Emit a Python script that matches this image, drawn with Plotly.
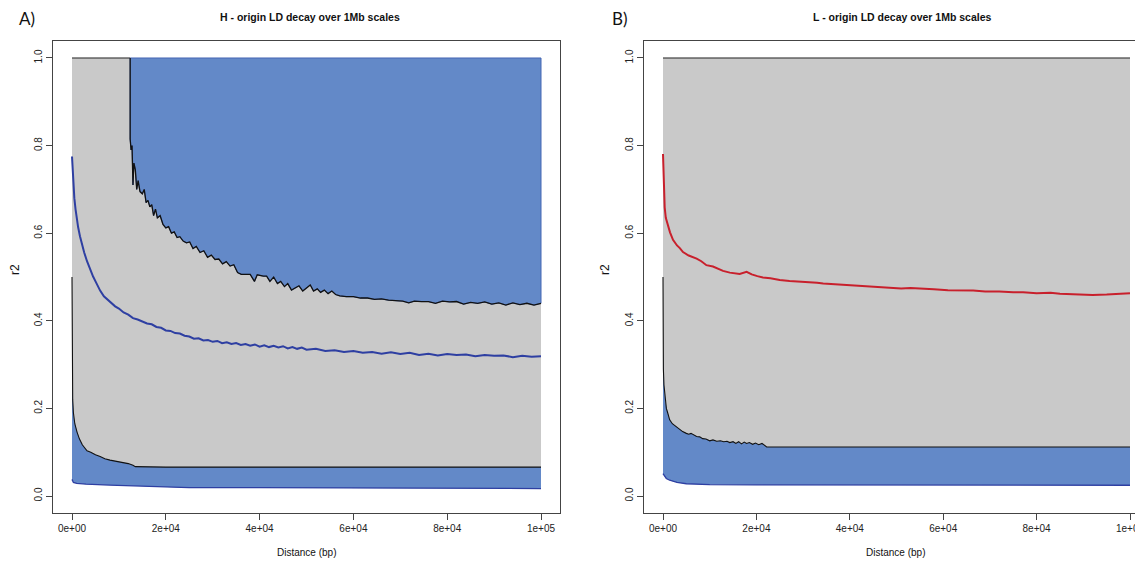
import plotly.graph_objects as go

# page is drawn with an 8px body margin, so the figure is 8px smaller each way
OFF = 8
W, H = 1143 - OFF, 564 - OFF

# ---------------- Panel A (H-origin) ----------------
H_up_x = [12400, 12400, 12600, 12800, 13000, 13200, 13500, 13800, 14100, 14500, 15000, 15400, 15800, 16200,
          16600, 17000, 17400, 17800, 18200, 18800, 19400, 20000, 20600, 21200, 21800, 22400, 23000, 23700,
          24400, 25100, 25800, 26500, 27300, 28100, 28900, 29700, 30500, 31300, 32100, 32900, 33700, 34500,
          35300, 36100, 37000, 38000, 38900, 39500, 40800, 41500, 42200, 43000, 43800, 44500, 45300, 46000,
          46800, 47600, 48400, 49200, 50000, 50800, 51500, 52300, 53000, 53800, 54600, 55400, 56200, 57100,
          58500, 60000, 61500, 63000, 64500, 66000, 67500, 69200, 70500, 71800, 73000, 74500, 76000, 77500,
          79000, 80500, 82000, 83500, 85000, 86500, 88000, 89500, 91000, 92500, 94000, 95500, 97000, 98500, 100000]
H_up_y = [1.0, 0.815, 0.79, 0.80, 0.71, 0.76, 0.745, 0.70, 0.72, 0.695, 0.69, 0.70, 0.67, 0.675,
          0.66, 0.665, 0.64, 0.655, 0.635, 0.64, 0.62, 0.612, 0.615, 0.60, 0.603, 0.59, 0.592, 0.582,
          0.578, 0.58, 0.565, 0.57, 0.556, 0.56, 0.545, 0.55, 0.54, 0.541, 0.53, 0.535, 0.525, 0.528,
          0.51, 0.506, 0.506, 0.506, 0.49, 0.505, 0.502, 0.502, 0.49, 0.50, 0.485, 0.49, 0.478, 0.485,
          0.47, 0.475, 0.48, 0.468, 0.475, 0.482, 0.468, 0.473, 0.465, 0.47, 0.462, 0.468, 0.46, 0.457,
          0.455, 0.455, 0.452, 0.452, 0.449, 0.45, 0.447, 0.445, 0.445, 0.441, 0.445, 0.444, 0.444, 0.44,
          0.445, 0.443, 0.444, 0.438, 0.442, 0.44, 0.443, 0.438, 0.441, 0.436, 0.441, 0.437, 0.44, 0.436, 0.44]

H_mean_x = [0, 150, 300, 500, 750, 1000, 1300, 1700, 2100, 2600, 3200, 3800, 4500, 5200, 6000, 6800, 7600,
            8400, 9200, 10000, 11000, 12000, 13000, 14000, 15000, 16000, 17000, 18000, 19000, 20000, 21000,
            22000, 23000, 24000, 25000, 26000, 27000, 28000, 29000, 30000, 31000, 32000, 33000, 34000, 35000,
            36000, 37000, 38000, 39000, 40000, 41000, 42000, 43000, 44000, 45000, 46000, 47000, 48000, 49000,
            50000, 52000, 54000, 56000, 58000, 60000, 62000, 64000, 66000, 68000, 70000, 72000, 74000, 76000,
            78000, 80000, 82000, 84000, 86000, 88000, 90000, 92000, 94000, 96000, 98000, 100000]
H_mean_y = [0.775, 0.735, 0.705, 0.680, 0.655, 0.633, 0.614, 0.593, 0.575, 0.556, 0.536, 0.519, 0.501, 0.486,
            0.469, 0.456, 0.448, 0.440, 0.433, 0.428, 0.419, 0.414, 0.406, 0.403, 0.399, 0.394, 0.392, 0.386,
            0.384, 0.378, 0.377, 0.372, 0.371, 0.366, 0.364, 0.359, 0.360, 0.355, 0.356, 0.352, 0.354, 0.349,
            0.351, 0.347, 0.349, 0.345, 0.347, 0.343, 0.346, 0.341, 0.344, 0.340, 0.343, 0.339, 0.342, 0.337,
            0.340, 0.336, 0.339, 0.334, 0.336, 0.331, 0.333, 0.329, 0.331, 0.327, 0.329, 0.325, 0.328, 0.324,
            0.327, 0.322, 0.325, 0.321, 0.324, 0.322, 0.323, 0.319, 0.322, 0.320, 0.321, 0.317, 0.320, 0.318, 0.319]

H_low_x = [0, 0, 150, 300, 600, 1070, 1600, 2200, 3200, 4000, 5000, 6000, 7000, 8100, 9500, 11000, 12000,
           13000, 13500, 20000, 30000, 40000, 50000, 60000, 70000, 80000, 90000, 100000]
H_low_y = [0.5, 0.26, 0.22, 0.19, 0.165, 0.146, 0.13, 0.117, 0.103, 0.1, 0.094, 0.09, 0.085, 0.082, 0.079,
           0.076, 0.074, 0.07, 0.067, 0.066, 0.066, 0.066, 0.066, 0.066, 0.066, 0.066, 0.066, 0.066]

H_bot_x = [0, 300, 1000, 3000, 8000, 15000, 25000, 40000, 60000, 80000, 100000]
H_bot_y = [0.038, 0.031, 0.029, 0.027, 0.025, 0.022, 0.019, 0.019, 0.018, 0.018, 0.017]

# ---------------- Panel B (L-origin) ----------------
L_mean_x = [0, 100, 250, 360, 600, 1000, 1500, 2140, 3000, 3600, 4280, 5500, 7200, 8200, 9290, 10700, 11800,
            12850, 14300, 15400, 16420, 17900, 19000, 20200, 21400, 23000, 25000, 27100, 29000, 31000, 33000,
            34300, 36000, 38000, 40000, 42000, 45000, 48000, 51000, 53000, 55700, 58000, 61000, 64000, 66400,
            69000, 72000, 75000, 77100, 80000, 83000, 85000, 87800, 90000, 92000, 95000, 97000, 100000]
L_mean_y = [0.781, 0.72, 0.68, 0.659, 0.635, 0.618, 0.602, 0.585, 0.572, 0.566, 0.557, 0.549, 0.542, 0.536,
            0.527, 0.524, 0.518, 0.514, 0.510, 0.508, 0.507, 0.512, 0.506, 0.502, 0.499, 0.497, 0.493, 0.491,
            0.490, 0.488, 0.487, 0.485, 0.484, 0.482, 0.481, 0.479, 0.477, 0.476, 0.474, 0.475, 0.4725, 0.472,
            0.470, 0.470, 0.469, 0.467, 0.467, 0.465, 0.465, 0.463, 0.464, 0.462, 0.461, 0.461, 0.459, 0.460,
            0.461, 0.463]

L_low_x = [0, 0, 80, 200, 500, 720, 1000, 1430, 2000, 2860, 3500, 4200, 5000, 5500, 6000, 6500, 7200, 7860,
           8500, 9200, 10000, 10700, 11500, 12300, 13000, 13700, 14300, 15000, 15600, 16200, 16800, 17400,
           17900, 18500, 19200, 19800, 20500, 21200, 21800, 22200, 30000, 50000, 70000, 80000, 90000, 100000]
L_low_y = [0.5, 0.33, 0.29, 0.254, 0.215, 0.2, 0.19, 0.174, 0.165, 0.158, 0.152, 0.147, 0.143, 0.141, 0.143,
           0.14, 0.136, 0.135, 0.131, 0.13, 0.126, 0.128, 0.125, 0.126, 0.124, 0.125, 0.122, 0.124, 0.12,
           0.124, 0.119, 0.123, 0.12, 0.122, 0.118, 0.121, 0.117, 0.12, 0.115, 0.112, 0.112, 0.112, 0.112,
           0.112, 0.112, 0.112]

L_bot_x = [0, 300, 700, 1430, 3000, 5000, 10000, 20000, 50000, 100000]
L_bot_y = [0.051, 0.045, 0.04, 0.036, 0.031, 0.028, 0.026, 0.0255, 0.025, 0.0245]

x_tickvals = [0, 20000, 40000, 60000, 80000, 100000]
x_ticktext = ["0e+00", "2e+04", "4e+04", "6e+04", "8e+04", "1e+05"]
y_tickvals = [0.0, 0.2, 0.4, 0.6, 0.8, 1.0]
y_ticktext = ["0.0", "0.2", "0.4", "0.6", "0.8", "1.0"]

GRAY = "#C9C9C9"
BLUE_FILL = "#6389C8"
BLUE_EDGE = "#4466B4"
DARK_BLUE = "#2E3FA2"
RED = "#C8202C"

fig = go.Figure()


def poly(xa, ya, xb, yb):
    """polygon from curve a (forward) and curve b (reversed)"""
    return list(xa) + list(xb)[::-1], list(ya) + list(yb)[::-1]


def add_panel(xs, ys, low_x, low_y, bot_x, bot_y, mean_x, mean_y, mean_color, up_x=None, up_y=None):
    px, py = poly(bot_x, bot_y, [bot_x[0], bot_x[-1]], [1.0, 1.0])
    fig.add_trace(go.Scatter(x=px, y=py, fill="toself", fillcolor=GRAY, mode="lines",
                             line=dict(width=0), hoverinfo="skip", xaxis=xs, yaxis=ys))
    top_end = up_x[0] if up_x else bot_x[-1]
    fig.add_trace(go.Scatter(x=[0, top_end], y=[1.0, 1.0], mode="lines",
                             line=dict(color="#222", width=1), xaxis=xs, yaxis=ys))
    if up_x:
        px, py = poly(up_x, up_y, [up_x[0], up_x[-1]], [1.0, 1.0])
        fig.add_trace(go.Scatter(x=px, y=py, fill="toself", fillcolor=BLUE_FILL, mode="lines",
                                 line=dict(color=BLUE_EDGE, width=1), xaxis=xs, yaxis=ys))
        fig.add_trace(go.Scatter(x=up_x, y=up_y, mode="lines",
                                 line=dict(color="#111", width=1.3), xaxis=xs, yaxis=ys))
    px, py = poly(low_x[1:], low_y[1:], bot_x, bot_y)
    fig.add_trace(go.Scatter(x=px, y=py, fill="toself", fillcolor=BLUE_FILL, mode="lines",
                             line=dict(width=0), xaxis=xs, yaxis=ys))
    fig.add_trace(go.Scatter(x=bot_x, y=bot_y, mode="lines",
                             line=dict(color=DARK_BLUE, width=1.3), xaxis=xs, yaxis=ys))
    fig.add_trace(go.Scatter(x=low_x, y=low_y, mode="lines",
                             line=dict(color="#111", width=1.1), xaxis=xs, yaxis=ys))
    fig.add_trace(go.Scatter(x=mean_x, y=mean_y, mode="lines",
                             line=dict(color=mean_color, width=2), xaxis=xs, yaxis=ys))


add_panel("x", "y", H_low_x, H_low_y, H_bot_x, H_bot_y, H_mean_x, H_mean_y, DARK_BLUE, H_up_x, H_up_y)
add_panel("x2", "y2", L_low_x, L_low_y, L_bot_x, L_bot_y, L_mean_x, L_mean_y, RED)


def fx(px):
    return (px - OFF) / W


def fy(py):
    return 1 - (py - OFF) / H


tickfont = dict(family="Liberation Sans, Arial", size=10, color="#222")
ydom = [fy(513), fy(41)]
yrange = [-0.0388, 1.0388]

common_x = dict(tickvals=x_tickvals, ticktext=x_ticktext, ticks="outside", ticklen=6, tickcolor="#444",
                showline=True, linecolor="#444", linewidth=1, showgrid=False, zeroline=False,
                tickfont=tickfont, fixedrange=True, ticklabeloverflow="allow")
common_y = dict(tickvals=y_tickvals, ticktext=y_ticktext, ticks="outside", ticklen=6, tickcolor="#444",
                showline=True, linecolor="#444", linewidth=1, showgrid=False, zeroline=False,
                tickfont=tickfont, tickangle=-90, range=yrange, domain=ydom, fixedrange=True)

fig.update_layout(
    width=W, height=H, margin=dict(l=0, r=0, t=0, b=0),
    paper_bgcolor="white", plot_bgcolor="white", showlegend=False,
    xaxis=dict(common_x, domain=[fx(53), fx(560)], range=[-4051, 104051], mirror=True, anchor="y"),
    yaxis=dict(common_y, mirror=True, anchor="x"),
    xaxis2=dict(common_x, domain=[fx(644), 1.0], range=[-4069, 102784], mirror=True, anchor="y2"),
    yaxis2=dict(common_y, mirror=False, anchor="x2"),
)

ann = []


def A(text, xpx, ypx, size, bold=False, angle=0, family="Liberation Sans, Arial", xanchor="center", color="#111"):
    ann.append(dict(text=("<b>%s</b>" % text) if bold else text, x=fx(xpx), y=fy(ypx),
                    xref="paper", yref="paper", showarrow=False, textangle=angle,
                    xanchor=xanchor, yanchor="middle", borderpad=0,
                    font=dict(family=family, size=size, color=color)))


A("A)", 18, 18, 17, family="Lato, Open Sans", xanchor="left")
A("B)", 611, 18, 17, family="Lato, Open Sans", xanchor="left")
A("H - origin LD decay over 1Mb scales", 310, 17, 10.5, bold=True)
A("L - origin LD decay over 1Mb scales", 902, 17, 10.5, bold=True)
A("r2", 15, 270, 12, angle=-90)
A("r2", 605, 270, 12, angle=-90)
A("Distance (bp)", 306, 552, 10)
A("Distance (bp)", 895, 552, 10)
fig.update_layout(annotations=ann)

fig.write_html("out.html")
